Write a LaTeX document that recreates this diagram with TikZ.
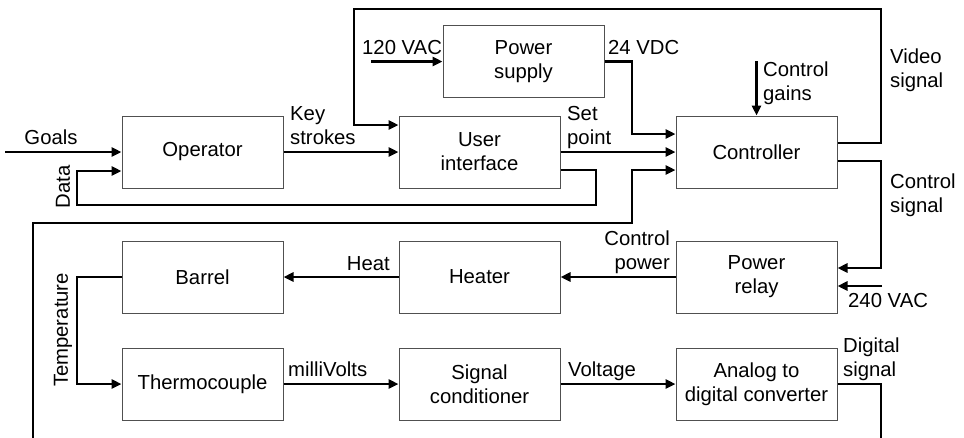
\documentclass[tikz,border=0pt]{standalone}
\usepackage{fontspec}
\setmainfont{Liberation Sans}
\usetikzlibrary{arrows.meta,calc}
\definecolor{boxgray}{HTML}{505050}
\newcommand\diagfont{\fontsize{20.3}{24}\selectfont}
\begin{document}
\begin{tikzpicture}[x=1pt,y=-1pt,
  block/.style={draw=boxgray,line width=1pt,minimum width=161pt,minimum height=72pt,inner sep=0pt,align=center,font=\diagfont},
  conn/.style={line width=2.6pt,-{Triangle[length=10pt,width=9pt]}},
  lbl/.style={inner sep=0pt,font=\diagfont}]
\useasboundingbox (0,0) rectangle (964,437);
% blocks
\node[block] (op) at (202.5,152) {Operator};
\node[block] (ui) at (479.5,152) {User\\interface};
\node[block] (ps) at (523.5,61.5) {Power\\supply};
\node[block] (ctrl) at (756.5,152) {Controller};
\node[block] (barrel) at (202.5,277) {Barrel};
\node[block] (heater) at (479.5,277) {Heater};
\node[block] (relay) at (756.5,277) {Power\\relay};
\node[block] (tc) at (202.5,384) {Thermocouple};
\node[block] (sc) at (479.5,384) {Signal\\conditioner};
\node[block] (adc) at (756.5,384) {Analog to\\digital converter};
% free ends
\coordinate (goalsin) at (5,152);
\coordinate (vacin) at (371,61.5);
\coordinate (gainsin) at (756.5,61);
\coordinate (vac240) at (882,286);
% connectors
\draw[conn] (goalsin) -- (op.west);
\draw[conn] ($(ui.east)+(0,18)$) -- (596,170) |- (77,205) |- ($(op.west)+(0,19)$);
\draw[conn] (op.east) -- (ui.west);
\draw[conn] ($(ctrl.east)+(0,-9)$) -| (881,9) -| (354,125) -- ($(ui.west)+(0,-27)$);
\draw[conn] (vacin) -- (ps.west);
\draw[conn] (ps.east) -- (632,61.5) |- ($(ctrl.west)+(0,-18)$);
\draw[conn] (ui.east) -- (ctrl.west);
\draw[conn] (adc.east) -- (881,384) -- (881,439) -- (33,439) -- (33,223) -| (632,170) -- ($(ctrl.west)+(0,18)$);
\draw[conn] (gainsin) -- (ctrl.north);
\draw[conn] ($(ctrl.east)+(0,9)$) -| (881,268) -- ($(relay.east)+(0,-9)$);
\draw[conn] (vac240) -- ($(relay.east)+(0,9)$);
\draw[conn] (heater.west) -- (barrel.east);
\draw[conn] (relay.west) -- (heater.east);
\draw[conn] (barrel.west) -- (77,277) |- (tc.west);
\draw[conn] (tc.east) -- (sc.west);
\draw[conn] (sc.east) -- (adc.west);
% labels (multi-line: base = last line)
\node[lbl,anchor=base] (lgoals) at (51,144) {Goals};
\node[lbl,align=left,anchor=base west] (lkey) at (290,144) {Key\\strokes};
\node[lbl,align=left,anchor=base west] (lset) at (567,144) {Set\\point};
\node[lbl,anchor=base west] (l120) at (362,54) {120 VAC};
\node[lbl,anchor=base west] (l24) at (608,54) {24 VDC};
\node[lbl,align=left,anchor=base west] (lgains) at (763,100) {Control\\gains};
\node[lbl,align=left,anchor=base west] (lvideo) at (890,87) {Video\\signal};
\node[lbl,align=left,anchor=base west] (lcsig) at (890,212) {Control\\signal};
\node[lbl,rotate=90] (ldata) at (63,187) {Data};
\node[lbl,rotate=90] (ltemp) at (63,330) {Temperature};
\node[lbl,anchor=base east] (lheat) at (390,270) {Heat};
\node[lbl,align=right,anchor=base east] (lcpow) at (670,269) {Control\\power};
\node[lbl,anchor=base west] (l240) at (848,307) {240 VAC};
\node[lbl,anchor=base west] (lmv) at (288,376) {milliVolts};
\node[lbl,anchor=base west] (lvolt) at (568,376) {Voltage};
\node[lbl,align=left,anchor=base west] (ldig) at (843,376) {Digital\\signal};
\end{tikzpicture}
\end{document}
